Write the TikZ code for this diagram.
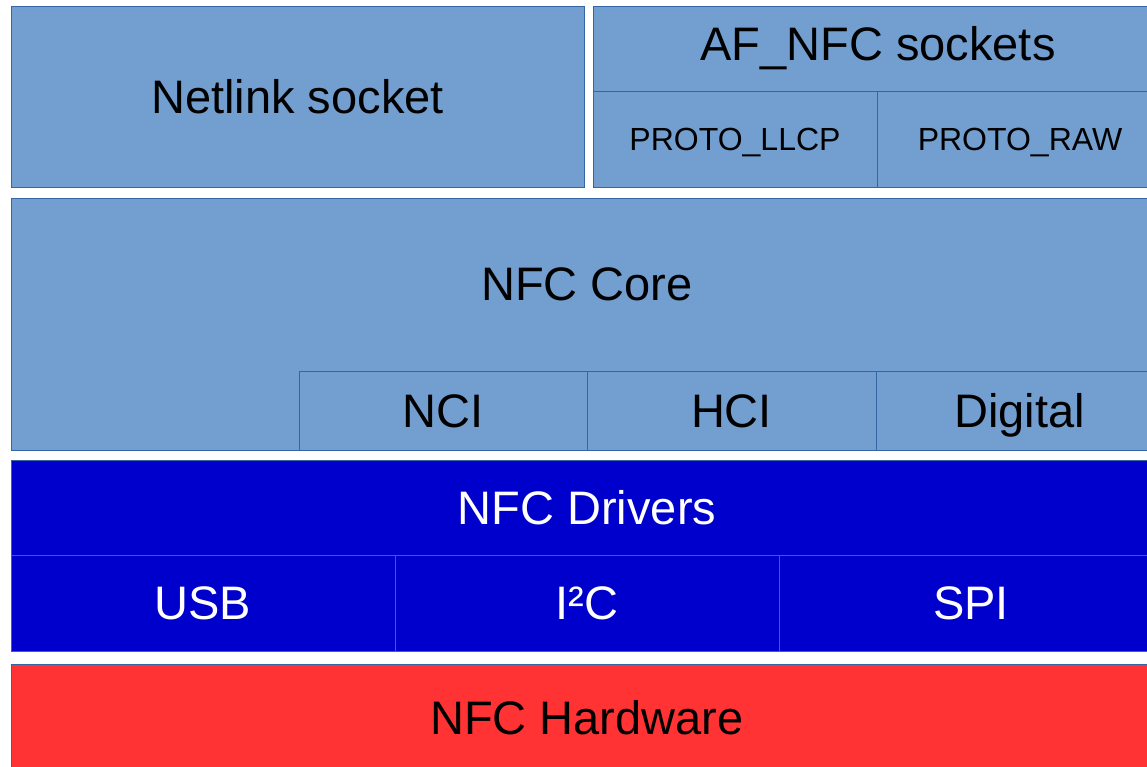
\documentclass[tikz,border=0pt]{standalone}
\usepackage{fontspec}
\setmainfont{Liberation Sans}
\usetikzlibrary{positioning,calc}
\definecolor{Pale}{HTML}{729FCF}
\definecolor{Edge}{HTML}{3465A4}
\definecolor{Deep}{HTML}{0000CC}
\definecolor{Hot}{HTML}{FF3333}
\newcommand{\bigtxt}{\fontsize{47pt}{56pt}\selectfont}
\newcommand{\smalltxt}{\fontsize{32pt}{38pt}\selectfont}

\begin{document}
\begin{tikzpicture}[x=1pt, y=-1pt, every node/.style={inner sep=0pt, outer sep=0pt, font=\bigtxt, text height=33.6pt, text depth=0pt}]
  \tikzstyle{layer}=[draw=Edge, fill=Pale, line width=0.8pt, anchor=north west]
  \tikzstyle{small}=[font=\smalltxt, text height=23pt]
  \tikzstyle{drvlayer}=[layer, fill=Deep, text=white]
  \tikzstyle{hwlayer}=[layer, fill=Hot]

  \useasboundingbox (0,0) rectangle (1147,767);
  \clip (0,0) rectangle (1147,767);

  % user space
  \node[layer, minimum width=573pt, minimum height=181pt] (netlink) at (11,6) {Netlink socket};
  \node[layer, text depth=10pt, minimum width=570pt, minimum height=85pt] (afnfc) at (593,6) {AF\_NFC sockets};
  \node[layer, small, minimum width=284pt, minimum height=96pt] (llcp) at (afnfc.south west) {PROTO\_LLCP};
  \node[layer, small, anchor=west, minimum width=286pt, minimum height=96pt, right=0pt of llcp] (raw) {PROTO\_RAW};

  % core
  \node[layer, minimum width=1152pt, minimum height=252pt] (core) at (11,198) {};
  \node (coretxt) at ($(core.north)+(0,86)$) {NFC Core};
  \node[layer, anchor=south west, minimum width=288pt, minimum height=79pt] (nci) at (299,450) {NCI};
  \node[layer, anchor=west, minimum width=289pt, minimum height=79pt, right=0pt of nci] (hci) {HCI};
  \node[layer, anchor=west, minimum width=287pt, minimum height=79pt, right=0pt of hci] (digital) {Digital};

  % drivers
  \node[drvlayer, minimum width=1152pt, minimum height=95pt] (drivers) at (11,460) {NFC Drivers};
  \node[drvlayer, minimum width=384pt, minimum height=96pt] (usb) at (drivers.south west) {USB};
  \node[drvlayer, anchor=west, minimum width=384pt, minimum height=96pt, right=0pt of usb] (i2c) {I²C};
  \node[drvlayer, anchor=west, minimum width=384pt, minimum height=96pt, right=0pt of i2c] (spi) {SPI};

  % hardware
  \node[hwlayer, minimum width=1152pt, minimum height=108pt] (hw) at (11,664) {NFC Hardware};
\end{tikzpicture}
\end{document}
